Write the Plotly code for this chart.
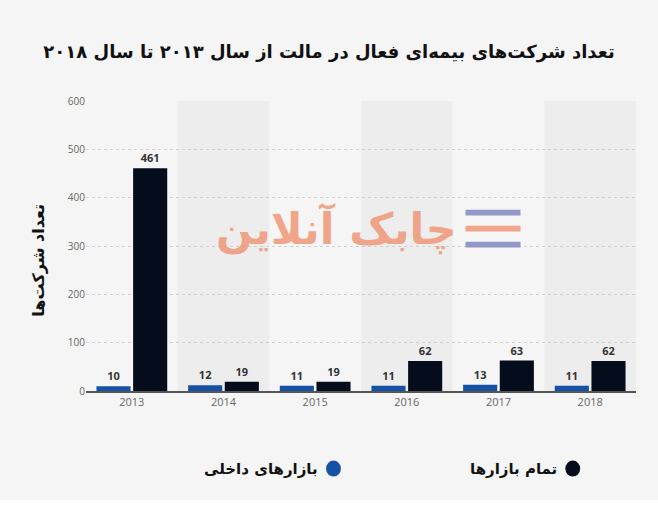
import plotly.graph_objects as go

# data
years = ["2013", "2014", "2015", "2016", "2017", "2018"]
domestic = [10, 12, 11, 11, 13, 11]
all_markets = [461, 19, 19, 62, 63, 62]

domestic_name = "بازارهای داخلی"
all_name = "تمام بازارها"
title_text = "تعداد شرکت‌های بیمه‌ای فعال در مالت از سال ۲۰۱۳ تا سال ۲۰۱۸"
ytitle_text = "تعداد شرکت‌ها"
watermark = "چابک آنلاین"

BLUE = "#1552a5"
DARK = "#050c1c"
BG = "#f5f5f5"
FA_FONT = "DejaVu Sans"

fig = go.Figure()
fig.add_trace(go.Bar(x=years, y=domestic, name=domestic_name,
                     marker=dict(color=BLUE, line=dict(width=0)),
                     text=["<b>%d</b>" % v for v in domestic],
                     textposition="outside", cliponaxis=False,
                     textfont=dict(family="Open Sans", size=11, color="#333333")))
fig.add_trace(go.Bar(x=years, y=all_markets, name=all_name,
                     marker=dict(color=DARK, line=dict(width=0)),
                     text=["<b>%d</b>" % v for v in all_markets],
                     textposition="outside", cliponaxis=False,
                     textfont=dict(family="Open Sans", size=11, color="#333333")))

# alternating column bands
shapes = []
for i, yr in enumerate(years):
    if i % 2 == 1:
        shapes.append(dict(type="rect", xref="x", yref="paper", layer="below",
                           x0=i - 0.5, x1=i + 0.5, y0=0, y1=1,
                           fillcolor="#ededed", line=dict(width=0)))

# legend drawn by hand so the marker sits right of the text (RTL)
legend_items = [(all_name, DARK, 0.885), (domestic_name, BLUE, 0.45)]
annotations = []
for name, col, xc in legend_items:
    shapes.append(dict(type="circle", xref="paper", yref="paper",
                       x0=xc - 0.0135, x1=xc + 0.0135, y0=-0.24, y1=-0.295,
                       fillcolor=col, line=dict(width=0)))
    annotations.append(dict(text="<b>" + name + "</b>", xref="paper", yref="paper",
                            x=xc - 0.025, y=-0.2675, xanchor="right", yanchor="middle",
                            showarrow=False,
                            font=dict(family=FA_FONT, size=15, color="#111111")))

# watermark logo
annotations.append(dict(text="<b>" + watermark + "</b>", xref="paper", yref="paper",
                        x=0.455, y=0.56, xanchor="center", yanchor="middle",
                        showarrow=False, opacity=0.85,
                        font=dict(family=FA_FONT, size=43, color="#f09878")))
for y0, x0, col in [(0.615, 0.69, "#8088c0"), (0.56, 0.69, "#f09878"), (0.505, 0.69, "#8088c0")]:
    shapes.append(dict(type="rect", xref="paper", yref="paper",
                       x0=x0, x1=0.79, y0=y0 - 0.01, y1=y0 + 0.01,
                       fillcolor=col, opacity=0.85, line=dict(width=0)))

annotations.append(dict(text="<b>" + ytitle_text + "</b>", xref="paper", yref="paper",
                        x=-0.087, y=0.45, xanchor="center", yanchor="middle",
                        textangle=-90, showarrow=False,
                        font=dict(family=FA_FONT, size=16, color="#111111")))

fig.update_layout(
    width=658, height=500,
    margin=dict(l=86, r=22, t=101, b=109),
    paper_bgcolor=BG, plot_bgcolor=BG,
    title=dict(text="<b>" + title_text + "</b>", x=0.5, xanchor="center",
               y=0.896, yanchor="middle",
               font=dict(family=FA_FONT, size=18, color="#111111")),
    barmode="group", bargap=0.2, bargroupgap=0.07,
    showlegend=False,
    shapes=shapes, annotations=annotations,
    xaxis=dict(showgrid=False, showline=True, linecolor="#555555", linewidth=1.5,
               ticks="", tickfont=dict(family="Open Sans", size=11, color="#666666")),
    yaxis=dict(range=[0, 600], dtick=100, showgrid=True, gridcolor="#cfcfcf",
               griddash="dot", zeroline=False, ticks="",
               tickfont=dict(family="Open Sans", size=10, color="#666666")),
)

fig.write_html("out.html", config={"displayModeBar": False},
               post_script="document.body.style.margin='0';")
